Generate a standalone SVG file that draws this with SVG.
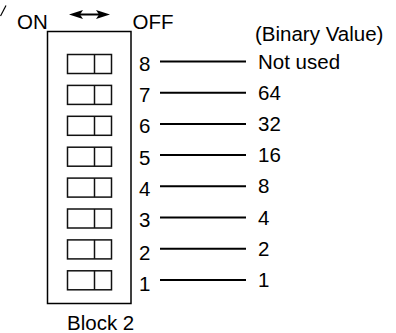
<svg xmlns="http://www.w3.org/2000/svg" width="396" height="333" viewBox="0 0 396 333">
<style>
text{font-family:"Liberation Sans",Arial,sans-serif;font-size:20.5px;fill:#000}
.box{fill:none;stroke:#000;stroke-width:1.5}
.sw{fill:#fff;stroke:#111;stroke-width:1.5}
.ln{stroke:#000;stroke-width:2}
</style>
<rect width="396" height="333" fill="#fff"/>
<line x1="0.5" y1="16" x2="6" y2="5.5" stroke="#000" stroke-width="1.2"/>
<g id="header">
<text x="17" y="29">ON</text>
<text x="132.5" y="29">OFF</text>
<text x="255" y="41">(Binary Value)</text>
<g id="arrow">
<line x1="79" y1="14.5" x2="100" y2="14.5" class="ln"/>
<polygon points="69,14.5 83,10 80,14.5 83,19" fill="#000"/>
<polygon points="110,14.5 96,10 99,14.5 96,19" fill="#000"/>
</g>
</g>
<g id="block">
<rect class="box" x="47.5" y="31.5" width="83.5" height="272"/>
<text x="67" y="330">Block 2</text>
</g>
<g id="sw8"><rect class="sw" x="67.5" y="54.5" width="44" height="19"/><line class="sw" x1="94.5" y1="54.5" x2="94.5" y2="73.5"/><text x="139" y="71">8</text></g>
<g id="sw7"><rect class="sw" x="67.5" y="85.4" width="44" height="19"/><line class="sw" x1="94.5" y1="85.4" x2="94.5" y2="104.4"/><text x="139" y="102.2">7</text></g>
<g id="sw6"><rect class="sw" x="67.5" y="116.3" width="44" height="19"/><line class="sw" x1="94.5" y1="116.3" x2="94.5" y2="135.3"/><text x="139" y="133.4">6</text></g>
<g id="sw5"><rect class="sw" x="67.5" y="147.2" width="44" height="19"/><line class="sw" x1="94.5" y1="147.2" x2="94.5" y2="166.2"/><text x="139" y="164.6">5</text></g>
<g id="sw4"><rect class="sw" x="67.5" y="178.1" width="44" height="19"/><line class="sw" x1="94.5" y1="178.1" x2="94.5" y2="197.1"/><text x="139" y="195.8">4</text></g>
<g id="sw3"><rect class="sw" x="67.5" y="209" width="44" height="19"/><line class="sw" x1="94.5" y1="209" x2="94.5" y2="228"/><text x="139" y="227">3</text></g>
<g id="sw2"><rect class="sw" x="67.5" y="239.9" width="44" height="19"/><line class="sw" x1="94.5" y1="239.9" x2="94.5" y2="258.9"/><text x="139" y="259.5">2</text></g>
<g id="sw1"><rect class="sw" x="67.5" y="270.8" width="44" height="19"/><line class="sw" x1="94.5" y1="270.8" x2="94.5" y2="289.8"/><text x="139" y="290.5">1</text></g>
<g id="connectors">
<line class="ln" x1="160" y1="61.5" x2="246" y2="61.5"/>
<line class="ln" x1="160" y1="92.7" x2="246" y2="92.7"/>
<line class="ln" x1="160" y1="123.9" x2="246" y2="123.9"/>
<line class="ln" x1="160" y1="155.1" x2="246" y2="155.1"/>
<line class="ln" x1="160" y1="186.3" x2="246" y2="186.3"/>
<line class="ln" x1="160" y1="217.5" x2="246" y2="217.5"/>
<line class="ln" x1="160" y1="248.7" x2="246" y2="248.7"/>
<line class="ln" x1="160" y1="279.9" x2="246" y2="279.9"/>
</g>
<g id="values">
<text x="258" y="68.5">Not used</text>
<text x="258" y="99.7">64</text>
<text x="258" y="130.9">32</text>
<text x="258" y="162.1">16</text>
<text x="258" y="193.3">8</text>
<text x="258" y="224.5">4</text>
<text x="258" y="255.7">2</text>
<text x="258" y="286.9">1</text>
</g>
</svg>
